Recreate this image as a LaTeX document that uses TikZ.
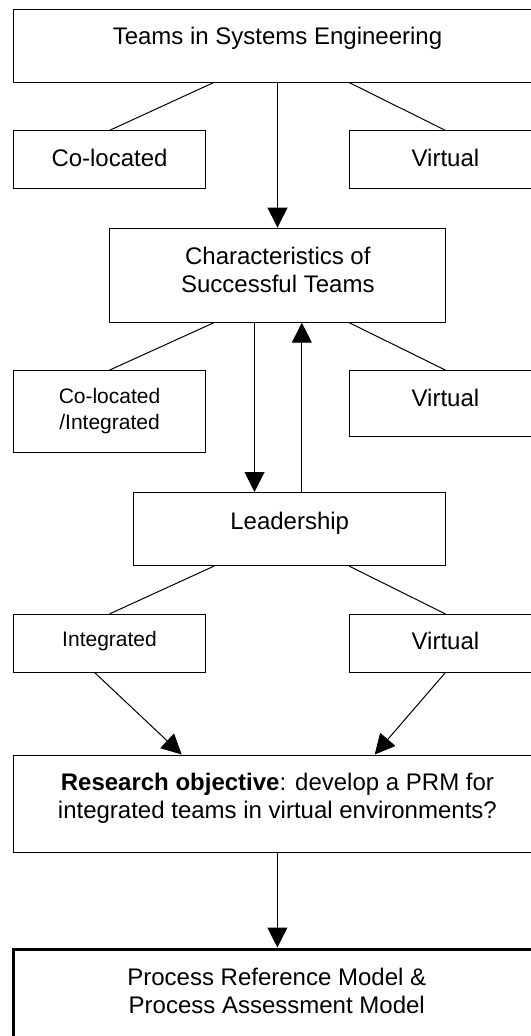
\documentclass[tikz,border=0pt]{standalone}
\usepackage{fontspec}
\setmainfont{Liberation Sans}
\usepackage{tikz}
\usetikzlibrary{arrows.meta}

\tikzset{
  box/.style={draw, line width=0.75pt, anchor=north west, inner sep=0pt, align=center, font=\fontsize{18}{21}\selectfont},
  smallbox/.style={box, font=\fontsize{15.75}{19}\selectfont},
  link/.style={line width=0.75pt},
  arr/.style={line width=0.75pt, -{Triangle[length=15pt,width=15pt]}}
}

\begin{document}
\begin{tikzpicture}[x=0.75pt,y=0.75pt,yscale=-1,xscale=1]
        \useasboundingbox (0,0) rectangle (531,1036);
        \clip (0,0) rectangle (531,1036);
        % boxes
        \node [box, minimum width=396pt, text height=26.25pt, text depth=28.2pt] (teams) at (13,9) {Teams in Systems Engineering};
        \node [box, minimum width=144.2pt, text height=26.7pt, text depth=16.5pt] (coloc) at (12.9,130.4) {Co-located};
        \node [box, minimum width=144.2pt, text height=26.7pt, text depth=16.5pt] (virt1) at (348.8,130.4) {Virtual};
        \node [box, minimum width=251.9pt, text height=48.3pt, text depth=22.3pt] (chars) at (109.4,227.6) {Characteristics of\\Successful Teams};
        \node [smallbox, minimum width=144.2pt, text height=43.95pt, text depth=17.25pt] (colint) at (12.9,370.1) {Co-located\\/Integrated};
        \node [box, minimum width=144.2pt, text height=26.7pt, text depth=22.35pt] (virt2) at (348.8,370.1) {Virtual};
        \node [box, minimum width=234.15pt, text height=27.45pt, text depth=27.45pt] (lead) at (133.1,492) {Leadership};
        \node [smallbox, minimum width=144.2pt, text height=24.1pt, text depth=19.1pt] (integ) at (12.9,613.9) {Integrated};
        \node [box, minimum width=144.2pt, text height=26.2pt, text depth=17pt] (virt3) at (348.8,613.9) {Virtual};
        \node [box, minimum width=396pt, text height=47.8pt, text depth=25.35pt] (research) at (12.9,754.5) {\textbf{Research objective}: develop a PRM for\\integrated teams in virtual environments?};
        \node [box, line width=2.25pt, minimum width=394.6pt, text height=48.45pt, text depth=45pt] (model) at (12.2,947.5) {Process Reference Model \&\\Process Assessment Model};
        % connectors
        \draw [link] ([xshift=-48pt]teams.south) -- (coloc.north);
        \draw [link] ([xshift=53.85pt]teams.south) -- (virt1.north);
        \draw [arr] (teams.south) -- (teams.south |- chars.north);
        \draw [link] ([xshift=-48pt]chars.south) -- (colint.north);
        \draw [link] ([xshift=53.6pt]chars.south) -- (virt2.north);
        \draw [arr] ([xshift=-17.5pt]chars.south) -- ([xshift=-17.5pt]chars.south |- lead.north);
        \draw [arr] ([xshift=18pt]chars.south |- lead.north) -- ([xshift=18pt]chars.south);
        \draw [link] ([xshift=-56.9pt]lead.south) -- (integ.north);
        \draw [link] ([xshift=44.7pt]lead.south) -- (virt3.north);
        \draw [arr] ([xshift=-11.2pt]integ.south) -- ([xshift=-71.8pt]research.north);
        \draw [arr] (virt3.south) -- ([xshift=73pt]research.north);
        \draw [arr] (research.south) -- (research.south |- model.north);
    \end{tikzpicture}
\end{document}
